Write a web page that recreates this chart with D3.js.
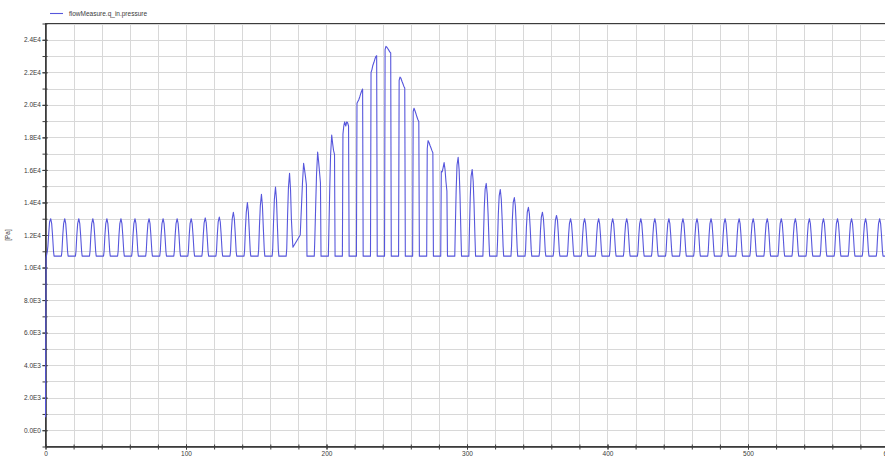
<!DOCTYPE html>
<html>
<head>
<meta charset="utf-8">
<script src="https://cdn.jsdelivr.net/npm/d3@7"></script>
<style>
body { margin: 0; background: #fff; }
svg { display: block; font-family: "Liberation Sans", Arial, sans-serif; }
</style>
</head>
<body>
<div id="graph"></div>
<script>
const seriesName = 'flowMeasure.q_in.pressure';
const yUnit = '[Pa]';

const xTicks = [0, 100, 200, 300, 400, 500, 600];
const xTickLabels = ['0', '100', '200', '300', '400', '500', '600'];
const yTicks = [0, 2000, 4000, 6000, 8000, 10000, 12000, 14000, 16000, 18000, 20000, 22000, 24000];
const yTickLabels = ['0.0E0', '2.0E3', '4.0E3', '6.0E3', '8.0E3', '1.0E4', '1.2E4', '1.4E4', '1.6E4', '1.8E4', '2.0E4', '2.2E4', '2.4E4'];

// start of the run, before the first pulse
const startT = [0, 0.4];
const startP = [800, 10600];

// one row per 10 s cycle, values at the offsets below
const cycleStart = [0, 10, 20, 30, 40, 50, 60, 70, 80, 90,
    100, 110, 120, 130, 140, 150, 160, 170, 180, 190,
    200, 210, 220, 230, 240, 250, 260, 270, 280, 290,
    300, 310, 320, 330, 340, 350, 360, 370, 380, 390,
    400, 410, 420, 430, 440, 450, 460, 470, 480, 490,
    500, 510, 520, 530, 540, 550, 560, 570, 580, 590];
const pulseOffset = [1.3, 1.7, 2.3, 2.9, 3.7, 4.4, 5.0, 5.7, 6.1];
const pulseValues = [
    [11000, 11300, 12100, 12800, 13000, 12700, 12000, 11000, 10700],
    [10700, 11000, 12000, 12700, 13000, 12700, 12000, 11000, 10700],
    [10700, 11000, 12000, 12700, 13000, 12700, 12000, 11000, 10700],
    [10700, 11000, 12000, 12700, 13000, 12700, 12000, 11000, 10700],
    [10700, 11000, 12000, 12700, 13000, 12700, 12000, 11000, 10700],
    [10700, 11000, 12000, 12700, 13000, 12700, 12000, 11000, 10700],
    [10700, 11000, 12000, 12700, 13000, 12700, 12000, 11000, 10700],
    [10700, 11000, 12000, 12700, 13000, 12700, 12000, 11000, 10700],
    [10700, 11000, 12000, 12700, 13000, 12700, 12000, 11000, 10700],
    [10700, 11000, 12000, 12700, 13000, 12700, 12000, 11000, 10700],
    [10700, 11000, 12000, 12700, 13000, 12700, 12000, 11000, 10700],
    [10700, 11000, 12000, 12750, 13050, 12750, 12000, 11000, 10700],
    [10700, 11000, 12050, 12800, 13100, 12800, 12050, 11000, 10700],
    [10700, 11000, 12200, 13000, 13400, 13000, 12150, 11000, 10700],
    [10700, 11050, 12400, 13400, 14000, 13400, 12300, 11050, 10700],
    [10700, 11100, 12600, 13800, 14500, 13800, 12500, 11100, 10700],
    [10700, 11100, 12800, 14200, 14950, 14200, 12700, 11100, 10700],
    [10700, 11150, 13200, 14900, 15800, 14800, 13000, 11800, 11250],
    [12000, 12800, 14000, 15200, 16400, 16000, 15600, 15100, 10700],
    [10700, 11800, 13800, 15700, 17100, 16500, 15900, 15200, 10700],
    [10700, 12300, 14800, 16900, 18150, 17600, 17200, 16950, 10700],
    [10700, 18200, 18700, 18950, 18700, 18950, 18900, 18700, 10700],
    [10700, 20100, 20200, 20300, 20500, 20700, 20850, 20970, 10700],
    [10700, 22000, 22150, 22400, 22600, 22800, 22950, 23020, 10700],
    [10700, 23400, 23600, 23550, 23450, 23350, 23250, 23190, 10700],
    [10700, 21500, 21710, 21650, 21450, 21300, 21150, 21030, 10700],
    [10700, 19600, 19790, 19650, 19450, 19250, 19100, 18970, 10700],
    [10700, 17300, 17800, 17700, 17500, 17350, 17200, 17060, 10700],
    [10700, 15900, 15880, 16100, 16450, 16000, 15300, 14700, 10700],
    [10700, 12500, 14800, 16300, 16770, 16000, 14500, 12000, 10700],
    [10700, 12200, 14300, 15600, 16030, 15300, 13900, 11800, 10700],
    [10700, 11800, 13700, 14800, 15170, 14500, 13300, 11500, 10700],
    [10700, 11500, 13300, 14400, 14800, 14200, 13000, 11300, 10700],
    [10700, 11300, 13000, 14000, 14300, 13800, 12700, 11200, 10700],
    [10700, 11100, 12500, 13400, 13700, 13300, 12400, 11100, 10700],
    [10700, 11000, 12300, 13100, 13400, 13000, 12200, 11000, 10700],
    [10700, 11000, 12100, 12900, 13200, 12900, 12100, 11000, 10700],
    [10700, 11000, 12000, 12700, 13000, 12700, 12000, 11000, 10700],
    [10700, 11000, 12000, 12700, 13000, 12700, 12000, 11000, 10700],
    [10700, 11000, 12000, 12700, 13000, 12700, 12000, 11000, 10700],
    [10700, 11000, 12000, 12700, 13000, 12700, 12000, 11000, 10700],
    [10700, 11000, 12000, 12700, 13000, 12700, 12000, 11000, 10700],
    [10700, 11000, 12000, 12700, 13000, 12700, 12000, 11000, 10700],
    [10700, 11000, 12000, 12700, 13000, 12700, 12000, 11000, 10700],
    [10700, 11000, 12000, 12700, 13000, 12700, 12000, 11000, 10700],
    [10700, 11000, 12000, 12700, 13000, 12700, 12000, 11000, 10700],
    [10700, 11000, 12000, 12700, 13000, 12700, 12000, 11000, 10700],
    [10700, 11000, 12000, 12700, 13000, 12700, 12000, 11000, 10700],
    [10700, 11000, 12000, 12700, 13000, 12700, 12000, 11000, 10700],
    [10700, 11000, 12000, 12700, 13000, 12700, 12000, 11000, 10700],
    [10700, 11000, 12000, 12700, 13000, 12700, 12000, 11000, 10700],
    [10700, 11000, 12000, 12700, 13000, 12700, 12000, 11000, 10700],
    [10700, 11000, 12000, 12700, 13000, 12700, 12000, 11000, 10700],
    [10700, 11000, 12000, 12700, 13000, 12700, 12000, 11000, 10700],
    [10700, 11000, 12000, 12700, 13000, 12700, 12000, 11000, 10700],
    [10700, 11000, 12000, 12700, 13000, 12700, 12000, 11000, 10700],
    [10700, 11000, 12000, 12700, 13000, 12700, 12000, 11000, 10700],
    [10700, 11000, 12000, 12700, 13000, 12700, 12000, 11000, 10700],
    [10700, 11000, 12000, 12700, 13000, 12700, 12000, 11000, 10700],
    [10700, 11000, 12000, 12700, 13000, 12700, 12000, 11000, 10700]
];
const endT = [600];
const endP = [10700];

function render(){
    const width = 885, height = 459;
    const left = 45.5, right = 888.5, top = 23.5, bottom = 446.5;
    const lineColor = '#5656dc';

    const x = d3.scaleLinear().domain([0, 600]).range([left, right]);
    const y = d3.scaleLinear().domain([-1000, 25000]).range([bottom, top]);

    const svg = d3.select('#graph')
        .append('svg')
        .attr('width', width)
        .attr('height', height);

    svg.append('defs')
        .append('clipPath')
        .attr('id', 'plotclip')
        .append('rect')
        .attr('x', left - 2)
        .attr('y', top)
        .attr('width', right - left + 2)
        .attr('height', bottom - top);

    // grid
    const grid = svg.append('g')
        .attr('class', 'grid')
        .attr('stroke', '#d8d8d8')
        .attr('stroke-width', 1);
    grid.selectAll('line.v')
        .data(x.ticks(30))
        .join('line')
        .attr('class', 'v')
        .attr('x1', d => Math.round(x(d)) + 0.5)
        .attr('x2', d => Math.round(x(d)) + 0.5)
        .attr('y1', top)
        .attr('y2', bottom);
    grid.selectAll('line.h')
        .data(y.ticks(26))
        .join('line')
        .attr('class', 'h')
        .attr('y1', d => Math.round(y(d)) + 0.5)
        .attr('y2', d => Math.round(y(d)) + 0.5)
        .attr('x1', left)
        .attr('x2', right);

    // frame
    svg.append('rect')
        .attr('x', left)
        .attr('y', top)
        .attr('width', right - left)
        .attr('height', bottom - top)
        .attr('fill', 'none')
        .attr('stroke', '#3c3c3c')
        .attr('stroke-width', 1);

    // axes
    const yMinor = d3.axisLeft(y)
        .tickValues(y.ticks(26))
        .tickSize(3)
        .tickSizeOuter(0)
        .tickFormat('');
    svg.append('g')
        .attr('class', 'y minor')
        .attr('transform', `translate(${left},0)`)
        .call(yMinor);

    const yAxis = d3.axisLeft(y)
        .tickValues(yTicks)
        .tickSize(3)
        .tickSizeOuter(0)
        .tickPadding(1.5)
        .tickFormat((d, i) => yTickLabels[i]);
    svg.append('g')
        .attr('class', 'y axis')
        .attr('transform', `translate(${left},0)`)
        .call(yAxis);

    const xMinor = d3.axisBottom(x)
        .tickValues(x.ticks(30))
        .tickSize(3)
        .tickSizeOuter(0)
        .tickFormat('');
    svg.append('g')
        .attr('class', 'x minor')
        .attr('transform', `translate(0,${bottom})`)
        .call(xMinor);

    const xAxis = d3.axisBottom(x)
        .tickValues(xTicks)
        .tickSize(3)
        .tickSizeOuter(0)
        .tickPadding(2)
        .tickFormat((d, i) => xTickLabels[i]);
    svg.append('g')
        .attr('class', 'x axis')
        .attr('transform', `translate(0,${bottom})`)
        .call(xAxis);

    svg.selectAll('.y .tick line').attr('x1', 2);
    svg.selectAll('.x .tick line').attr('y1', -2);
    svg.selectAll('.domain').attr('stroke', '#3c3c3c');
    svg.selectAll('.tick line').attr('stroke', '#3c3c3c');
    svg.selectAll('.tick text')
        .attr('fill', '#3a3a3a')
        .style('font-size', '6.5px')
        .style('font-family', '"Liberation Sans", Arial, sans-serif');

    // curve, drawn over the frame like the original plot
    const points = [];
    startT.forEach((t, i) => points.push([t, startP[i]]));
    cycleStart.forEach((s, c) => {
        pulseOffset.forEach((o, j) => points.push([s + o, pulseValues[c][j]]));
    });
    endT.forEach((t, i) => points.push([t, endP[i]]));

    const line = d3.line()
        .x(d => x(d[0]))
        .y(d => y(d[1]));

    svg.append('path')
        .datum(points)
        .attr('clip-path', 'url(#plotclip)')
        .attr('fill', 'none')
        .attr('stroke', lineColor)
        .attr('stroke-width', 1.1)
        .attr('stroke-linejoin', 'round')
        .attr('d', line);

    // unit label
    svg.append('text')
        .attr('transform', `translate(10,${(top + bottom) / 2}) rotate(-90)`)
        .attr('text-anchor', 'middle')
        .attr('fill', '#3a3a3a')
        .style('font-size', '6.5px')
        .text(yUnit);

    // legend
    svg.append('line')
        .attr('x1', 50)
        .attr('x2', 63)
        .attr('y1', 13.5)
        .attr('y2', 13.5)
        .attr('stroke', lineColor)
        .attr('stroke-width', 1.1);
    svg.append('text')
        .attr('x', 69)
        .attr('y', 15.8)
        .attr('fill', '#3a3a3a')
        .style('font-size', '6.5px')
        .text(seriesName);
}

render()
</script>
</body>
</html>
